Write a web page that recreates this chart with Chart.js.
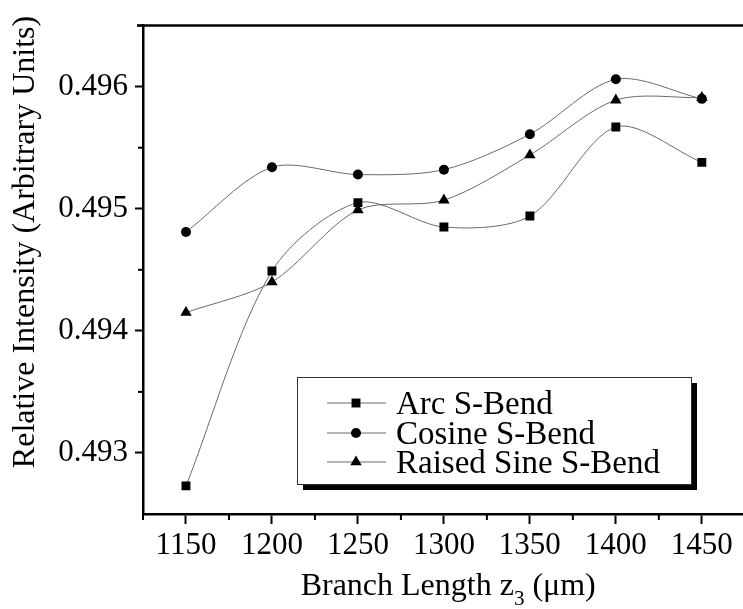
<!DOCTYPE html>
<html>
<head>
<meta charset="utf-8">
<script src="https://cdn.jsdelivr.net/npm/chart.js@4/dist/chart.umd.min.js"></script>
<style>
  html, body { margin: 0; padding: 0; overflow: hidden; background: #fff; }
  #wrap { width: 760px; height: 609px; position: relative; }
</style>
</head>
<body>
<div id="wrap"><canvas id="chart"></canvas></div>
<script>
// ── data ──
const branchLength = [1150, 1200, 1250, 1300, 1350, 1400, 1450];
const arcBend      = [0.49273, 0.49449, 0.49505, 0.49485, 0.49494, 0.49567, 0.49538];
const cosineBend   = [0.49481, 0.49534, 0.49528, 0.49532, 0.49561, 0.49606, 0.49590];
const raisedSine   = [0.49415, 0.49440, 0.49499, 0.49507, 0.49544, 0.49589, 0.49591];
const xTicks = [1150, 1200, 1250, 1300, 1350, 1400, 1450];
const xMinor = [1125, 1175, 1225, 1275, 1325, 1375, 1425, 1475];
const yTicks = [0.493, 0.494, 0.495, 0.496];
const yMinor = [0.4935, 0.4945, 0.4955, 0.4965];

const SERIF = '"Liberation Serif", "DejaVu Serif", serif';
const LINE = '#6a6a6a';

const pts = ys => branchLength.map((x, i) => ({ x, y: ys[i] }));

function series(label, ys, style, r, order) {
  return {
    label, data: pts(ys), order,
    borderColor: LINE, borderWidth: 1, tension: 0.3,
    pointStyle: style, pointRadius: r, pointHoverRadius: r,
    pointBackgroundColor: '#000', pointBorderWidth: 0,
  };
}

// top frame line, minor ticks, axis titles, shadowed legend
const decor = {
  id: 'decor',
  afterDraw(chart) {
    const { ctx, chartArea: a, scales: { x, y } } = chart;
    ctx.save();
    ctx.strokeStyle = '#000';
    ctx.lineWidth = 2.5;
    ctx.beginPath();
    ctx.moveTo(a.left - 6, a.top); ctx.lineTo(a.right + 2, a.top);
    ctx.stroke();

    ctx.lineWidth = 2;
    xMinor.forEach(v => {
      const px = x.getPixelForValue(v);
      ctx.beginPath(); ctx.moveTo(px, a.bottom); ctx.lineTo(px, a.bottom + 6); ctx.stroke();
    });
    yMinor.forEach(v => {
      const py = y.getPixelForValue(v);
      ctx.beginPath(); ctx.moveTo(a.left, py); ctx.lineTo(a.left - 5, py); ctx.stroke();
    });

    // axis titles
    ctx.fillStyle = '#000';
    ctx.textBaseline = 'alphabetic';
    const p1 = 'Branch Length z', sub = '3', p2 = ' (\u03bcm)';
    ctx.font = '32px ' + SERIF; const w1 = ctx.measureText(p1).width, w3 = ctx.measureText(p2).width;
    ctx.font = '21px ' + SERIF; const w2 = ctx.measureText(sub).width;
    let tx = (a.left + a.right) / 2 - (w1 + w2 + w3) / 2;
    ctx.font = '32px ' + SERIF; ctx.fillText(p1, tx, 595); tx += w1;
    ctx.font = '21px ' + SERIF; ctx.fillText(sub, tx, 605); tx += w2;
    ctx.font = '32px ' + SERIF; ctx.fillText(p2, tx, 595);

    ctx.save();
    ctx.translate(34, 242);
    ctx.rotate(-Math.PI / 2);
    ctx.textAlign = 'center';
    ctx.fillText('Relative Intensity (Arbitrary Units)', 0, 0);
    ctx.restore();

    // legend
    const bx = 297, by = 377, bw = 394, bh = 107;
    ctx.fillStyle = '#000';
    ctx.fillRect(bx + 6, by + 6, bw, bh);
    ctx.fillStyle = '#fff';
    ctx.fillRect(bx, by, bw, bh);
    ctx.lineWidth = 1;
    ctx.strokeStyle = '#333';
    ctx.strokeRect(bx + 0.5, by + 0.5, bw, bh);
    const rows = [403, 433, 462];
    chart.data.datasets.forEach((ds, i) => {
      const ry = rows[i];
      ctx.strokeStyle = LINE; ctx.lineWidth = 1;
      ctx.beginPath(); ctx.moveTo(327, ry); ctx.lineTo(386, ry); ctx.stroke();
      ctx.fillStyle = '#000';
      Chart.helpers.drawPoint(ctx, { pointStyle: ds.pointStyle, radius: ds.pointRadius, borderWidth: 0 }, 356, ry);
      ctx.font = '33px ' + SERIF;
      ctx.textAlign = 'left';
      ctx.fillText(ds.label, 396, ry + 11);
    });
    ctx.restore();
  }
};

new Chart(document.getElementById('chart'), {
  type: 'line',
  data: {
    datasets: [
      series('Arc S-Bend', arcBend, 'rect', 6.3, 0),
      series('Cosine S-Bend', cosineBend, 'circle', 5, 2),
      series('Raised Sine S-Bend', raisedSine, 'triangle', 6.6, 1),
    ]
  },
  options: {
    responsive: true, maintainAspectRatio: false, animation: false,
    layout: { padding: { top: 24, right: 6, left: 0, bottom: 0 } },
    plugins: { legend: { display: false }, tooltip: { enabled: false } },
    scales: {
      x: {
        type: 'linear', min: 1125, max: 1480,
        afterBuildTicks: s => { s.ticks = xTicks.map(v => ({ value: v })); },
        afterFit: s => { s.height = 95; },
        grid: { drawOnChartArea: false, tickLength: 10, tickWidth: 2, tickColor: '#000' },
        border: { color: '#000', width: 2.5 },
        ticks: { font: { family: SERIF, size: 31 }, color: '#000', padding: 3, maxRotation: 0, callback: v => String(v) }
      },
      y: {
        type: 'linear', min: 0.4925, max: 0.4965,
        afterBuildTicks: s => { s.ticks = yTicks.map(v => ({ value: v })); },
        afterFit: s => { s.width = 143; },
        grid: { drawOnChartArea: false, tickLength: 8, tickWidth: 2, tickColor: '#000' },
        border: { color: '#000', width: 2.5 },
        ticks: { font: { family: SERIF, size: 31 }, color: '#000', padding: 7, callback: v => v.toFixed(3) }
      }
    }
  },
  plugins: [decor]
});
</script>
</body>
</html>
